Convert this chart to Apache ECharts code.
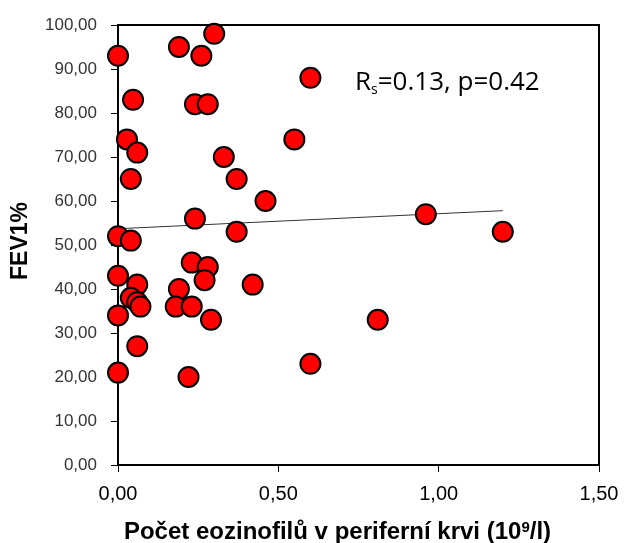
<!DOCTYPE html>
<html>
<head>
<meta charset="utf-8">
<script src="https://cdn.jsdelivr.net/npm/echarts@6/dist/echarts.min.js"></script>
<style>
    html, body { margin: 0; padding: 0; background: #fff; }
    #chart { width: 624px; height: 543px; }
</style>
</head>
<body>
<div id="chart"></div>
<script>
// eozinofily (10^9/l) vs FEV1 %
var eosValues = [0, 0.19, 0.30, 0.26, 0.60, 0.047, 0.24, 0.28, 0.028, 0.06,
    0.55, 0.33, 0.04, 0.37, 0.46, 0.24, 0.96, 1.20, 0.37, 0, 0.04,
    0.23, 0.28, 0, 0.27, 0.06, 0.42, 0.19, 0.04, 0.06, 0.07,
    0, 0.18, 0.23, 0.29, 0.06, 0, 0.22, 0.60, 0.81];
var fevValues = [93, 95, 98, 93, 88, 83, 82, 82, 74, 71,
    74, 70, 65, 65, 60, 56, 57, 53, 53, 52, 51,
    46, 45, 43, 42, 41, 41, 40, 38, 37, 36,
    34, 36, 36, 33, 27, 21, 20, 23, 33];
// regresni primka
var trendX = [0, 1.20];
var trendY = [53.7, 57.8];

var points = [];
for (var i = 0; i < eosValues.length; i++) {
    points.push([eosValues[i], fevValues[i]]);
}
var trendLine = [[trendX[0], trendY[0]], [trendX[1], trendY[1]]];

function fmt(v) {
    return v.toFixed(2).replace('.', ',');
}

var myChart = echarts.init(document.getElementById('chart'));
myChart.setOption({
    animation: false,
    grid: {
        left: 118,
        right: 25,
        top: 25,
        bottom: 78,
        outerBoundsMode: 'none',
        containLabel: false,
        show: true,
        borderColor: '#000',
        borderWidth: 2
    },
    xAxis: {
        type: 'value',
        min: 0,
        max: 1.5,
        interval: 0.5,
        name: 'Počet eozinofilů v periferní krvi (10{sup|9}/l)',
        nameLocation: 'middle',
        nameGap: 55,
        nameTextStyle: {
            fontFamily: 'Liberation Sans',
            fontWeight: 'bold',
            fontSize: 24,
            color: '#000',
            padding: [0, 42, 0, 0],
            rich: {
                sup: {
                    fontFamily: 'Liberation Sans',
                    fontWeight: 'bold',
                    fontSize: 15,
                    verticalAlign: 'top',
                    padding: [0, 0, 10, 0]
                }
            }
        },
        axisLine: { lineStyle: { color: '#000', width: 2 } },
        axisTick: { show: true, length: 7, lineStyle: { color: '#000', width: 1 } },
        axisLabel: {
            formatter: fmt,
            fontFamily: 'Liberation Sans',
            fontSize: 20,
            color: '#000',
            margin: 19
        },
        splitLine: { show: false }
    },
    yAxis: {
        type: 'value',
        min: 0,
        max: 100,
        interval: 10,
        name: 'FEV1%',
        nameLocation: 'middle',
        nameGap: 86,
        nameTextStyle: {
            fontFamily: 'Liberation Sans',
            fontWeight: 'bold',
            fontSize: 23,
            color: '#000',
            padding: [0, 0, 0, 8]
        },
        axisLine: { show: true, lineStyle: { color: '#000', width: 2 } },
        axisTick: { show: true, length: 7, lineStyle: { color: '#000', width: 1 } },
        axisLabel: {
            formatter: fmt,
            fontFamily: 'Liberation Sans',
            fontSize: 17,
            color: '#333',
            margin: 21
        },
        splitLine: { show: false }
    },
    graphic: [{
        type: 'text',
        left: 355,
        top: 70,
        style: {
            text: '{r|R}{s|s}{r|=0.13, p=0.42}',
            rich: {
                r: { fontFamily: 'Open Sans', fontSize: 26, fill: '#000' },
                s: { fontFamily: 'Open Sans', fontSize: 14, fill: '#000', padding: [14, 0, 0, 0] }
            }
        }
    }],
    series: [{
        name: 'trend',
        type: 'line',
        data: trendLine,
        symbol: 'none',
        lineStyle: { color: '#333', width: 1 },
        z: 1
    }, {
        name: 'FEV1',
        type: 'scatter',
        data: points,
        symbol: 'circle',
        symbolSize: 20,
        itemStyle: {
            color: '#ff0000',
            opacity: 1,
            borderColor: '#000',
            borderWidth: 2
        },
        z: 2
    }]
});
</script>
</body>
</html>
